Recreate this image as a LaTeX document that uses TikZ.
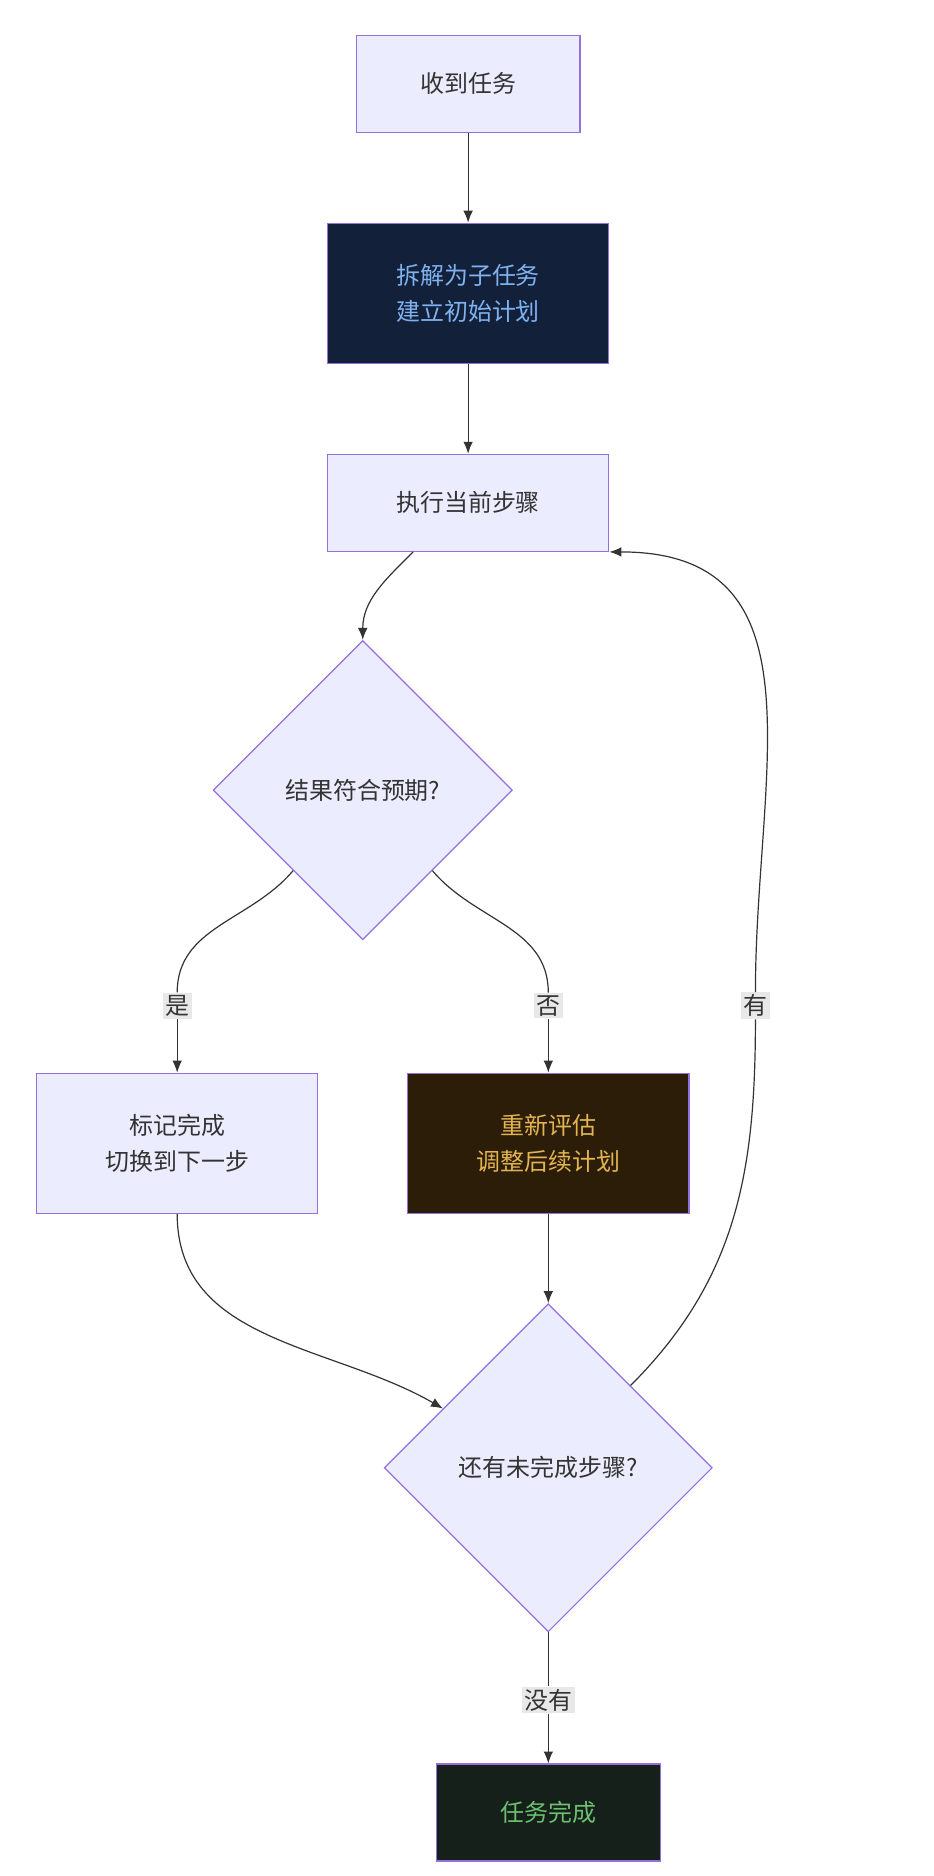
\documentclass[tikz,border=0pt]{standalone}
\usepackage{fontspec}
\setmainfont{Noto Sans CJK SC}
\usetikzlibrary{arrows.meta, positioning, shapes.geometric, calc}
\definecolor{boxfill}{HTML}{ECECFF}
\definecolor{boxline}{HTML}{9370DB}
\definecolor{navyfill}{HTML}{13203A}
\definecolor{navytext}{HTML}{7FB2F0}
\definecolor{brownfill}{HTML}{2B1D08}
\definecolor{browntext}{HTML}{E3B450}
\definecolor{greenfill}{HTML}{16201A}
\definecolor{greentext}{HTML}{6CC070}
\definecolor{edgecol}{HTML}{333333}
\tikzset{
  task/.style={draw=boxline, fill=boxfill, line width=1pt, align=center, text=edgecol},
  check/.style={diamond, aspect=1, inner sep=0pt, draw=boxline, fill=boxfill, line width=1pt, text=edgecol},
  lbl/.style={fill=black!9, inner sep=2pt, text=edgecol},
  flow/.style={draw=edgecol, line width=1pt, -{Latex[length=10pt,width=8pt]}},
  link/.style={draw=edgecol, line width=1pt}
}
\begin{document}
\begin{tikzpicture}[x=1pt, y=-1pt, font=\fontsize{20}{30}\selectfont]
\useasboundingbox (0,0) rectangle (780,1567);

\node[task, minimum width=187pt, minimum height=81pt] (recv) at (391,70) {收到任务};
\node[task, fill=navyfill, text=navytext, minimum width=235pt, minimum height=117pt] (split) at (391,245) {拆解为子任务\\建立初始计划};
\node[task, minimum width=235pt, minimum height=81pt] (exec) at (391,420) {执行当前步骤};
\node[check, minimum size=250pt] (ok) at (303,660) {结果符合预期?};
\node[task, minimum width=235pt, minimum height=117pt] (mark) at (148,955) {标记完成\\切换到下一步};
\node[task, fill=brownfill, text=browntext, minimum width=235pt, minimum height=117pt] (redo) at (458,955) {重新评估\\调整后续计划};
\node[check, minimum size=274pt] (more) at (458,1226) {还有未完成步骤?};
\node[task, fill=greenfill, text=greentext, minimum width=187pt, minimum height=81pt] (done) at (458,1514) {任务完成};

% edge labels
\node[lbl] (yes) at (148,840) {是};
\node[lbl] (no) at (458,840) {否};
\node[lbl] (has) at (631,840) {有};
\node[lbl] (none) at (458,1420) {没有};

\coordinate (okl) at ($(ok.west)!0.536!(ok.south)$);
\coordinate (okr) at ($(ok.east)!0.536!(ok.south)$);
\coordinate (morein) at ($(more.west)!0.36!(more.north)$);
\coordinate (moreout) at ($(more.north)!0.5!(more.east)$);

\draw[flow] (recv) -- (split);
\draw[flow] (split) -- (exec);
\draw[flow] ([xshift=-46pt]exec.south) to[out=-135,in=90] (ok.north);
\draw[link] (okl) to[out=-130,in=90] (yes.north);
\draw[flow] (yes.south) -- (mark.north);
\draw[link] (okr) to[out=-50,in=90] (no.north);
\draw[flow] (no.south) -- (redo.north);
\draw[flow] (mark.south) to[out=-90,in=150] (morein);
\draw[flow] (redo) -- (more.north);
\draw[link] (moreout) to[out=45,in=-90] (has.south);
\draw[flow] (has.north) to[out=90,in=0,looseness=1.2] (exec.south east);
\draw[link] (more.south) -- (none.north);
\draw[flow] (none.south) -- (done.north);

\end{tikzpicture}
\end{document}
